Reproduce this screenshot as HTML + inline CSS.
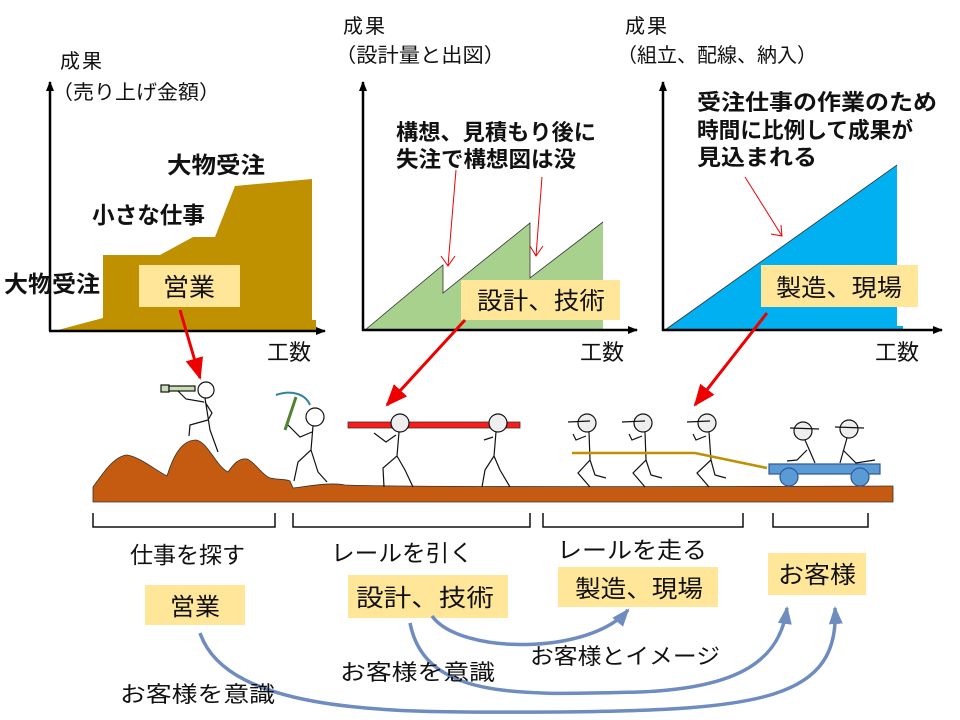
<!DOCTYPE html>
<html><head><meta charset="utf-8"><style>
body{margin:0;background:#fff;width:960px;height:720px;overflow:hidden}
svg{display:block}
text{font-family:"Liberation Sans","Noto Sans CJK JP",sans-serif;fill:#111}
.b{font-weight:bold}
</style></head><body>
<svg width="960" height="720" viewBox="0 0 960 720">
<defs>
<marker id="ak" markerWidth="10" markerHeight="10" refX="9" refY="5" orient="auto" markerUnits="userSpaceOnUse"><path d="M0,1 L10,5 L0,9 z" fill="#000"/></marker>
<marker id="ar" markerWidth="24" markerHeight="24" refX="20" refY="12" orient="auto" markerUnits="userSpaceOnUse"><path d="M0,3 L22,12 L0,21 z" fill="#e00"/></marker>
<marker id="ab" markerWidth="20" markerHeight="20" refX="16" refY="10" orient="auto" markerUnits="userSpaceOnUse"><path d="M0,3 L18,10 L0,17 z" fill="#6E8CC0"/></marker>
</defs>

<!-- chart 1 -->
<text x="60" y="68" font-size="20" textLength="42">成果</text>
<text x="52" y="99" font-size="20" textLength="168" lengthAdjust="spacingAndGlyphs">（売り上げ金額）</text>
<polygon points="58,330 103,318 103,255 160,255 193,237 215,237 235,186 312,179 312,320 316,320 316,330" fill="#BF9000"/>
<line x1="50" y1="331" x2="50" y2="82" stroke="#000" stroke-width="2.5" marker-end="url(#ak)"/>
<line x1="49" y1="331" x2="325" y2="331" stroke="#000" stroke-width="2.5" marker-end="url(#ak)"/>
<text x="167" y="173" font-size="23" class="b" textLength="98" lengthAdjust="spacingAndGlyphs">大物受注</text>
<text x="92" y="223" font-size="23" class="b" textLength="113" lengthAdjust="spacingAndGlyphs">小さな仕事</text>
<text x="4" y="292" font-size="23" class="b" textLength="96" lengthAdjust="spacingAndGlyphs">大物受注</text>
<rect x="139" y="265" width="101" height="42" fill="#FFE699"/>
<text x="163" y="296" font-size="25" textLength="52" lengthAdjust="spacingAndGlyphs">営業</text>
<text x="267" y="360" font-size="22" textLength="44">工数</text>

<!-- chart 2 -->
<text x="343" y="33" font-size="20" textLength="42">成果</text>
<text x="335" y="62" font-size="20" textLength="170" lengthAdjust="spacingAndGlyphs">（設計量と出図）</text>
<polygon points="365,330 443,265 443,293 530,223 530,278 603,222 603,329" fill="#A9D18E"/>
<polyline points="365,330 443,265 443,293 530,223 530,278 603,222" fill="none" stroke="#333" stroke-width="0.8"/>
<line x1="363" y1="331" x2="363" y2="82" stroke="#000" stroke-width="2.5" marker-end="url(#ak)"/>
<line x1="362" y1="330" x2="637" y2="330" stroke="#000" stroke-width="2.5" marker-end="url(#ak)"/>
<text x="396" y="140" font-size="22" class="b" textLength="200" lengthAdjust="spacingAndGlyphs">構想、見積もり後に</text>
<text x="396" y="167" font-size="22" class="b" textLength="180" lengthAdjust="spacingAndGlyphs">失注で構想図は没</text>
<path d="M456,170 L448,266 M441,256 L448,266 L455,256" stroke="#e00" fill="none" stroke-width="1"/>
<path d="M542,177 L536,256 M530,246 L536,256 L543,246" stroke="#e00" fill="none" stroke-width="1"/>
<rect x="461" y="280" width="159" height="40" fill="#FFE699"/>
<text x="477" y="309" font-size="24" textLength="128" lengthAdjust="spacingAndGlyphs">設計、技術</text>
<text x="580" y="360" font-size="22" textLength="44">工数</text>

<!-- chart 3 -->
<text x="625" y="33" font-size="20" textLength="42">成果</text>
<text x="617" y="62" font-size="20" textLength="200" lengthAdjust="spacingAndGlyphs">（組立、配線、納入）</text>
<polygon points="665,330 897,165 897,326 903,326 903,330" fill="#00B0F0"/>
<line x1="665" y1="330" x2="897" y2="165" stroke="#333" stroke-width="0.8"/>
<line x1="663" y1="331" x2="663" y2="82" stroke="#000" stroke-width="2.5" marker-end="url(#ak)"/>
<line x1="662" y1="330" x2="942" y2="330" stroke="#000" stroke-width="2.5" marker-end="url(#ak)"/>
<text x="697" y="110" font-size="22" class="b" textLength="240" lengthAdjust="spacingAndGlyphs">受注仕事の作業のため</text>
<text x="697" y="138" font-size="22" class="b" textLength="216" lengthAdjust="spacingAndGlyphs">時間に比例して成果が</text>
<text x="697" y="165" font-size="22" class="b" textLength="120" lengthAdjust="spacingAndGlyphs">見込まれる</text>
<path d="M745,177 L782,236 M771,234 L782,236 L781,225" stroke="#e00" fill="none" stroke-width="1"/>
<rect x="761" y="265" width="157" height="42" fill="#FFE699"/>
<text x="776" y="296" font-size="24" textLength="126" lengthAdjust="spacingAndGlyphs">製造、現場</text>
<text x="875" y="360" font-size="22" textLength="44">工数</text>

<!-- big red arrows -->
<line x1="180" y1="310" x2="200" y2="378" stroke="#e00" stroke-width="3" marker-end="url(#ar)"/>
<line x1="465" y1="320" x2="387" y2="405" stroke="#e00" stroke-width="3" marker-end="url(#ar)"/>
<line x1="767" y1="313" x2="695" y2="405" stroke="#e00" stroke-width="3" marker-end="url(#ar)"/>

<!-- ground -->
<path d="M93,487 C105,470 115,456 127,455 C140,457 155,470 167,476 C172,460 180,440 196,440 C208,442 215,465 228,472 C235,462 240,458 247,459 C255,462 262,475 270,478 C280,480 286,479 290,481 L293,488 C310,486 330,482 345,485 C400,487 600,487 893,486 L893,502 L93,502 Z" fill="#C55A11" stroke="#333" stroke-width="0.8"/>

<!-- stick figures -->
<g stroke="#111" stroke-width="1.2" fill="none">
<rect x="161" y="385" width="8" height="7" fill="#C5E0B4"/><rect x="169" y="386" width="26" height="5" fill="#C5E0B4"/>
<circle cx="206" cy="390" r="8" fill="#fff"/>
<path d="M205,398 L210,430 L218,452 M208,420 L190,425 L189,436 M178,391 L186,399 L204,402 M205,402 L212,413 L208,420"/>
<path d="M276,395 C290,390 305,393 310,405" stroke="#31849B" stroke-width="2"/>
<line x1="296" y1="397" x2="285" y2="430" stroke="#548235" stroke-width="3"/>
<circle cx="315" cy="417" r="9" fill="#fff"/>
<path d="M313,426 L311,450 L298,462 L294,481 M311,450 L318,472 L327,482 M312,432 L300,437 L288,425"/>
<rect x="348" y="422" width="172" height="6" fill="#FF1A1A" stroke="#333" stroke-width="0.8"/>
<circle cx="400" cy="423" r="9" fill="#eee"/>
<path d="M399,432 L397,456 L383,468 L384,487 M397,456 L405,470 L413,487 M396,435 L386,442 L374,433"/>
<circle cx="498" cy="423" r="9" fill="#eee"/>
<path d="M496,432 L494,456 L485,470 L482,487 M494,456 L500,470 L510,487 M493,437 L484,440"/>
<circle cx="587" cy="423" r="9" fill="#eee"/><line x1="568" y1="422" x2="590" y2="421"/>
<path d="M589,432 L590,460 L578,473 L590,487 M590,460 L595,475 L606,478 M586,436 L576,440 L573,434"/>
<circle cx="643" cy="423" r="9" fill="#eee"/><line x1="622" y1="422" x2="645" y2="421"/>
<path d="M645,432 L646,460 L633,473 L645,487 M646,460 L651,475 L662,478 M642,436 L632,440 L629,434"/>
<circle cx="707" cy="423" r="9" fill="#eee"/><line x1="687" y1="422" x2="710" y2="421"/>
<path d="M709,432 L711,460 L697,473 L709,487 M711,460 L715,475 L726,478 M706,436 L696,440 L693,434"/>
<path d="M572,453 L695,453 L767,468" stroke="#BF9000" stroke-width="2.5"/>
<rect x="769" y="464" width="111" height="10" fill="#5B9BD5" stroke="#2F5597"/>
<circle cx="789" cy="477" r="9" fill="#5B9BD5" stroke="#2F5597"/>
<circle cx="860" cy="477" r="9" fill="#5B9BD5" stroke="#2F5597"/>
<circle cx="803" cy="431" r="9" fill="#eee"/><line x1="790" y1="428" x2="819" y2="429"/>
<path d="M805,440 L815,463 M807,450 L797,460 L787,461"/>
<circle cx="849" cy="429" r="9" fill="#eee"/><line x1="835" y1="427" x2="864" y2="428"/>
<path d="M847,438 L840,463 M843,450 L856,463 L875,460"/>
</g>

<!-- brackets -->
<g stroke="#111" stroke-width="1.5" fill="none">
<path d="M93,513 L93,527 L275,527 L275,513"/>
<path d="M293,513 L293,527 L530,527 L530,513"/>
<path d="M543,513 L543,527 L743,527 L743,513"/>
<path d="M773,513 L773,527 L868,527 L868,513"/>
</g>
<text x="130" y="563" font-size="23" textLength="115" lengthAdjust="spacingAndGlyphs">仕事を探す</text>
<text x="331" y="561" font-size="23" textLength="142" lengthAdjust="spacingAndGlyphs">レールを引く</text>
<text x="557" y="558" font-size="23" textLength="150" lengthAdjust="spacingAndGlyphs">レールを走る</text>
<rect x="145" y="585" width="100" height="40" fill="#FFE699"/>
<text x="170" y="615" font-size="24" textLength="50" lengthAdjust="spacingAndGlyphs">営業</text>
<rect x="348" y="575" width="160" height="43" fill="#FFE699"/>
<text x="356" y="606" font-size="24" textLength="138" lengthAdjust="spacingAndGlyphs">設計、技術</text>
<rect x="558" y="567" width="160" height="40" fill="#FFE699"/>
<text x="575" y="597" font-size="24" textLength="128" lengthAdjust="spacingAndGlyphs">製造、現場</text>
<rect x="768" y="553" width="98" height="42" fill="#FFE699"/>
<text x="778" y="583" font-size="24" textLength="78" lengthAdjust="spacingAndGlyphs">お客様</text>

<!-- curves -->
<g stroke="#6E8CC0" stroke-width="3.5" fill="none">
<path d="M200,633 C230,720 420,712 560,712 C760,710 840,700 835,608" marker-end="url(#ab)"/>
<path d="M410,623 C425,700 520,695 640,692 C740,688 780,660 787,608" marker-end="url(#ab)"/>
<path d="M432,616 C460,655 590,655 628,610" marker-end="url(#ab)"/>
</g>
<text x="530" y="664" font-size="22" textLength="190" lengthAdjust="spacingAndGlyphs">お客様とイメージ</text>
<text x="340" y="680" font-size="22" textLength="155" lengthAdjust="spacingAndGlyphs">お客様を意識</text>
<text x="120" y="702" font-size="22" textLength="155" lengthAdjust="spacingAndGlyphs">お客様を意識</text>
</svg>
</body></html>
